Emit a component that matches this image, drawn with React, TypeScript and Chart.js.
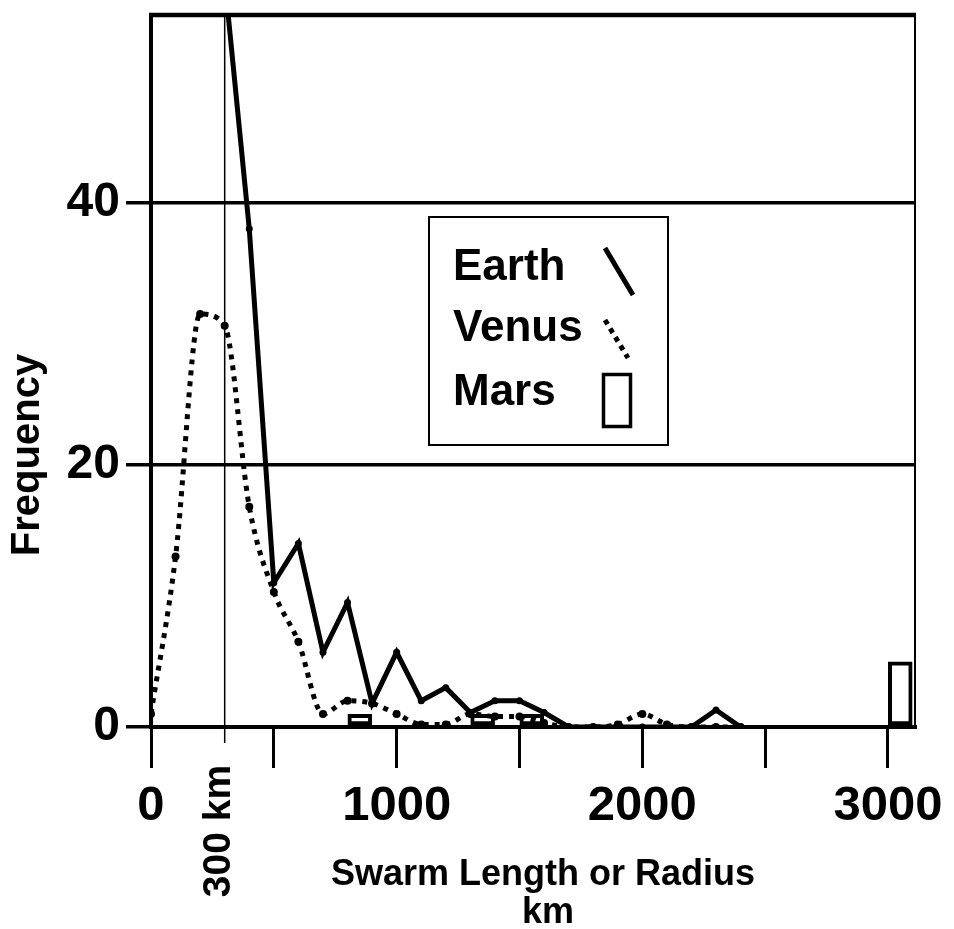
import React, { useEffect, useRef } from 'react';
import { Chart, registerables } from 'chart.js';

Chart.register(...registerables);

// ---- data ----
const earthKm = [300, 400, 500, 600, 700, 800, 900, 1000, 1100, 1200, 1300, 1400, 1500, 1600, 1700, 1800, 1900, 2000, 2100, 2200, 2300, 2400];
const earthFreq = [57, 38, 11, 14, 5.7, 9.5, 1.8, 5.7, 2, 3, 1.1, 2, 2, 1.1, 0, 0, 0, 0, 0, 0, 1.3, 0];

const venusKm = [0, 100, 200, 300, 400, 500, 600, 700, 800, 900, 1000, 1100, 1200, 1300, 1400, 1500, 1600, 1700, 1800, 1900, 2000, 2100, 2200, 2300, 2400];
const venusFreq = [1, 13, 31.5, 30.6, 16.8, 10.3, 6.5, 1, 2, 1.8, 1, 0.2, 0.2, 1, 0.8, 0.8, 0.3, 0, 0, 0.2, 1, 0.2, 0, 0, 0];

const marsBinStart = [800, 1300, 1500, 3000];
const marsCounts = [1, 1, 1, 5];
const marsBinWidth = 100;

const seriesNames = ['Earth', 'Venus', 'Mars'];

const xTicks = [0, 500, 1000, 1500, 2000, 2500, 3000];
const xTickLabels = ['0', '', '1000', '', '2000', '', '3000'];
const yTicks = [0, 20, 40];
const xMax = 3110;
const yMax = 54.3;

const markerKm = 300;
const markerLabel = '300 km';
const xTitleLines = ['Swarm Length or Radius', 'km'];
const yTitle = 'Frequency';

const FONT = '"Liberation Sans", Arial, Helvetica, sans-serif';

const marsCenters = marsBinStart.map((s) => s + marsBinWidth / 2);
const marsMinGap = marsCenters.slice(1).reduce((m, c, i) => Math.min(m, c - marsCenters[i]), Infinity);

const framePlugin = {
  id: 'frameAndMarker',
  beforeDatasetsDraw(chart: any) {
    const { ctx, chartArea } = chart;
    const { left, right, top, bottom } = chartArea;
    ctx.save();
    ctx.strokeStyle = '#000';
    ctx.lineWidth = 4.5;
    ctx.beginPath();
    ctx.moveTo(left - 2, top);
    ctx.lineTo(right + 1, top);
    ctx.stroke();
    ctx.lineWidth = 2;
    ctx.beginPath();
    ctx.moveTo(right, top);
    ctx.lineTo(right, bottom);
    ctx.stroke();
    const px = chart.scales.x.getPixelForValue(markerKm);
    ctx.lineWidth = 1.5;
    ctx.beginPath();
    ctx.moveTo(px, top);
    ctx.lineTo(px, bottom + 16);
    ctx.stroke();
    ctx.restore();
  },
};

const textPlugin = {
  id: 'texts',
  afterDraw(chart: any) {
    const { ctx } = chart;
    ctx.save();
    ctx.fillStyle = '#000';
    // y title
    ctx.save();
    ctx.translate(28, 455);
    ctx.rotate(-Math.PI / 2);
    ctx.font = `bold 40px ${FONT}`;
    ctx.textAlign = 'center';
    ctx.textBaseline = 'middle';
    ctx.fillText(yTitle, 0, 0);
    ctx.restore();
    // x title
    ctx.font = `bold 36px ${FONT}`;
    ctx.textAlign = 'center';
    ctx.textBaseline = 'alphabetic';
    ctx.fillText(xTitleLines[0], 543, 885);
    ctx.fillText(xTitleLines[1], 548, 923);
    // marker label
    const px = chart.scales.x.getPixelForValue(markerKm);
    ctx.save();
    ctx.translate(px - 5, 831);
    ctx.rotate(-Math.PI / 2);
    ctx.font = `bold 39px ${FONT}`;
    ctx.textAlign = 'center';
    ctx.textBaseline = 'middle';
    ctx.fillText(markerLabel, 0, 0);
    ctx.restore();

    // legend box
    const bx = 429, by = 217, bw = 239, bh = 228;
    ctx.fillStyle = '#fff';
    ctx.fillRect(bx, by, bw, bh);
    ctx.strokeStyle = '#000';
    ctx.lineWidth = 2;
    ctx.strokeRect(bx, by, bw, bh);
    ctx.fillStyle = '#000';
    ctx.font = `bold 44px ${FONT}`;
    ctx.textAlign = 'left';
    ctx.textBaseline = 'alphabetic';
    const baselines = [280, 341, 405];
    chart.data.datasets.forEach((ds: any, i: number) => {
      ctx.fillText(ds.label, 453, baselines[i]);
    });
    // symbols
    ctx.lineCap = 'butt';
    ctx.lineWidth = 5;
    ctx.beginPath();
    ctx.moveTo(605, 248);
    ctx.lineTo(633, 295);
    ctx.stroke();
    ctx.setLineDash([5, 5]);
    ctx.beginPath();
    ctx.moveTo(605, 320);
    ctx.lineTo(628, 358);
    ctx.stroke();
    ctx.setLineDash([]);
    ctx.lineWidth = 3.5;
    ctx.strokeRect(603.5, 374.5, 27, 52);
    ctx.restore();
  },
};

export default function App() {
  const ref = useRef<HTMLCanvasElement | null>(null);
  useEffect(() => {
    if (!ref.current) return;
    Chart.defaults.color = '#000';
    Chart.defaults.font.family = FONT;
    const chart = new Chart(ref.current, {
      type: 'line',
      data: {
        datasets: [
          {
            type: 'line',
            label: seriesNames[0],
            data: earthKm.map((x, i) => ({ x, y: earthFreq[i] })),
            borderColor: '#000',
            backgroundColor: '#000',
            borderWidth: 5,
            pointRadius: 3.5,
            pointBorderWidth: 0,
            pointBackgroundColor: '#000',
            tension: 0,
            fill: false,
          },
          {
            type: 'line',
            label: seriesNames[1],
            data: venusKm.map((x, i) => ({ x, y: venusFreq[i] })),
            borderColor: '#000',
            backgroundColor: '#000',
            borderWidth: 5,
            borderDash: [5, 6],
            borderCapStyle: 'butt',
            pointRadius: 4,
            pointBorderWidth: 0,
            pointBackgroundColor: '#000',
            cubicInterpolationMode: 'monotone',
            fill: false,
          },
          {
            type: 'bar',
            label: seriesNames[2],
            data: marsCenters.map((x, i) => ({ x, y: marsCounts[i] })),
            backgroundColor: 'rgba(0,0,0,0)',
            borderColor: '#000',
            borderWidth: 4,
            borderSkipped: false,
            barPercentage: 1,
            categoryPercentage: marsBinWidth / marsMinGap,
          },
        ] as any,
      },
      options: {
        animation: false,
        responsive: false,
        events: [],
        layout: { padding: { top: 15, right: 39, left: 0, bottom: 0 } },
        plugins: { legend: { display: false }, tooltip: { enabled: false }, title: { display: false } },
        scales: {
          x: {
            type: 'linear',
            position: 'bottom',
            min: 0,
            max: xMax,
            offset: false,
            grid: { offset: false, drawOnChartArea: false, drawTicks: true, tickLength: 41, color: '#000', lineWidth: 3 },
            border: { display: true, color: '#000', width: 4 },
            ticks: {
              autoSkip: false,
              maxRotation: 0,
              minRotation: 0,
              padding: 14,
              color: '#000',
              font: { family: FONT, size: 49, weight: 'bold', lineHeight: 1 },
              callback: (_v: any, i: number) => xTickLabels[i],
            },
            afterBuildTicks: (s: any) => {
              s.ticks = xTicks.map((value) => ({ value }));
            },
            afterFit: (s: any) => {
              s.height = 202;
              s.paddingLeft = 0;
              s.paddingRight = 0;
            },
          },
          y: {
            type: 'linear',
            min: 0,
            max: yMax,
            grid: { color: '#000', lineWidth: 3.5, tickLength: 25, drawTicks: true },
            border: { display: true, color: '#000', width: 4 },
            ticks: {
              padding: 6,
              color: '#000',
              font: { family: FONT, size: 48, weight: 'bold', lineHeight: 1 },
            },
            afterBuildTicks: (s: any) => {
              s.ticks = yTicks.map((value) => ({ value }));
            },
            afterFit: (s: any) => {
              s.width = 151;
              s.paddingTop = 0;
              s.paddingBottom = 0;
            },
          },
        },
      } as any,
      plugins: [framePlugin, textPlugin],
    });
    return () => chart.destroy();
  }, []);
  return (
    <canvas
      ref={ref}
      width={954}
      height={929}
      style={{ position: 'absolute', left: 0, top: 0, display: 'block', background: '#fff' }}
    />
  );
}
